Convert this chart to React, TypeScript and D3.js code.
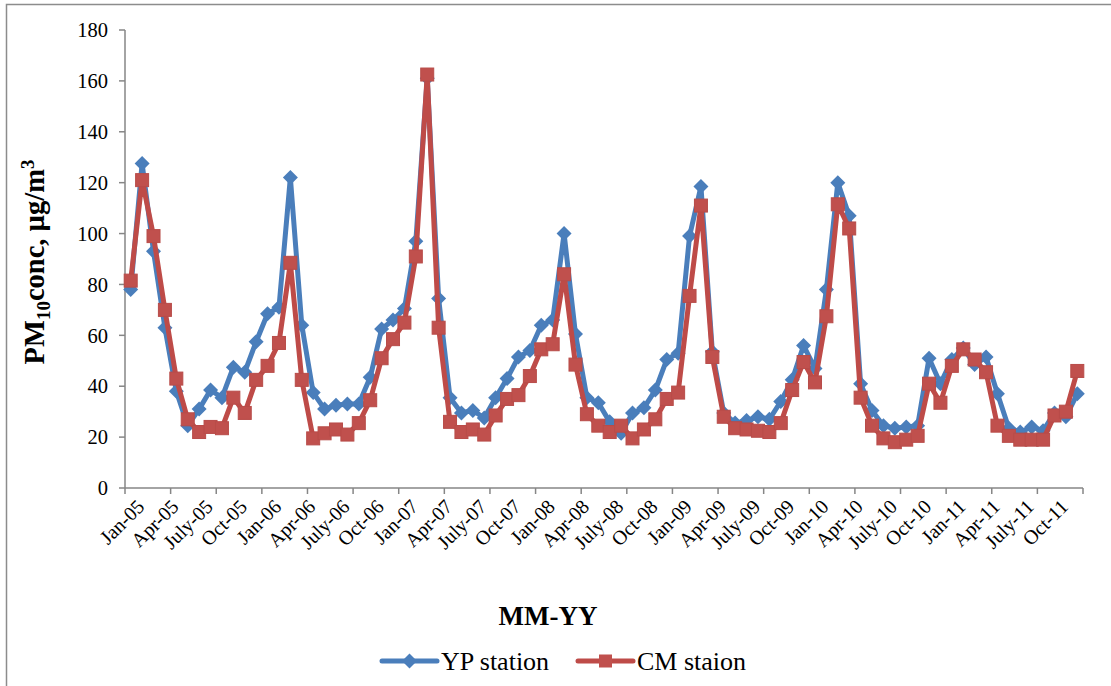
import * as d3 from "d3";
import { useEffect, useRef } from "react";

// monthly categories Jan-05 .. Dec-11
const months = ["Jan", "Feb", "Mar", "Apr", "May", "June", "July", "Aug", "Sep", "Oct", "Nov", "Dec"];
const years = ["05", "06", "07", "08", "09", "10", "11"];
const categories = years.flatMap((y) => months.map((m) => m + "-" + y));

// PM10 monthly means, µg/m3
const ypStation = [
  78, 127.5, 93, 63, 38, 24.5, 31, 38.5, 35.5, 47.5, 45.5, 57.5,
  68.5, 71, 122, 64, 37.5, 31, 32.5, 33, 33, 43.5, 62.5, 66,
  70.5, 97, 161, 74.5, 35.5, 29.5, 30.5, 27.5, 35.5, 43, 51.5, 54,
  64, 66, 100, 60.5, 35.5, 33.5, 26, 21.5, 29.5, 31.5, 38.5, 50.5,
  53, 99, 118.5, 53.5, 29.5, 25.5, 26.5, 28, 27, 34, 42.5, 56,
  47, 78, 120, 107, 41, 30.5, 24.5, 23.5, 24, 24.5, 51, 41,
  50.5, 55, 48.5, 51.5, 37, 23.5, 22, 24, 22.5, 29.5, 28, 37,
];
const cmStation = [
  81.5, 121, 99, 70, 43, 27, 22, 24, 23.5, 35.5, 29.5, 42.5,
  48, 57, 88.5, 42.5, 19.5, 21.5, 23, 21, 25.5, 34.5, 51, 58.5,
  65, 91, 162.5, 63, 26, 22, 23, 21, 28.5, 35, 36.5, 44,
  54.5, 56.5, 84, 48.5, 29, 24.5, 22, 24.5, 19.5, 23, 27, 35,
  37.5, 75.5, 111, 51.5, 28, 23.5, 23, 22.5, 22, 25.5, 38.5, 49.5,
  41.5, 67.5, 111.5, 102, 35.5, 24.5, 19.5, 18, 19, 20.5, 41, 33.5,
  48, 54.5, 50.5, 45.5, 24.5, 20.5, 19, 19, 19, 28.5, 30, 46,
];
const yTicks = [0, 20, 40, 60, 80, 100, 120, 140, 160, 180];
const xTickLabels = categories.filter((c) => /^(Jan|Apr|July|Oct)-/.test(c));

const FONT = "'Liberation Serif', 'Times New Roman', serif";
const BLUE = "#4A7EBB";
const RED = "#BE4B48";

const App = () => {
  const svgRef = useRef<SVGSVGElement>(null);

  useEffect(() => {
    const svg = d3.select(svgRef.current);
    svg.selectAll("*").remove();

    const x = d3.scaleBand().domain(categories).range([125, 1083]);
    const y = d3.scaleLinear().domain([0, 180]).range([488, 30]);
    const cx = (c: string) => (x(c) as number) + x.bandwidth() / 2;

    // outer frame
    svg
      .append("rect")
      .attr("x", 6.5)
      .attr("y", 4.5)
      .attr("width", 1200)
      .attr("height", 800)
      .attr("fill", "none")
      .attr("stroke", "#8c8c8c")
      .attr("stroke-width", 1.5);

    // y axis
    const gy = svg.append("g");
    gy.append("line")
      .attr("x1", 125).attr("x2", 125)
      .attr("y1", y(0)).attr("y2", y(180))
      .attr("stroke", "#868686").attr("stroke-width", 1.5);
    gy.selectAll("line.tick")
      .data(yTicks)
      .enter()
      .append("line")
      .attr("class", "tick")
      .attr("x1", 119).attr("x2", 125)
      .attr("y1", (d) => y(d)).attr("y2", (d) => y(d))
      .attr("stroke", "#868686").attr("stroke-width", 1.5);
    gy.selectAll("text")
      .data(yTicks)
      .enter()
      .append("text")
      .attr("x", 108)
      .attr("y", (d) => y(d))
      .attr("dy", "0.35em")
      .attr("text-anchor", "end")
      .attr("font-family", FONT)
      .attr("font-size", 20.5)
      .text((d) => d);

    // x axis
    const gx = svg.append("g");
    gx.append("line")
      .attr("x1", 125).attr("x2", 1083)
      .attr("y1", 488).attr("y2", 488)
      .attr("stroke", "#868686").attr("stroke-width", 1.5);
    const bounds = categories
      .filter((_, i) => i % 4 === 0)
      .map((c) => x(c) as number)
      .concat([x.range()[1]]);
    gx.selectAll("line.tick")
      .data(bounds)
      .enter()
      .append("line")
      .attr("class", "tick")
      .attr("x1", (d) => d).attr("x2", (d) => d)
      .attr("y1", 488).attr("y2", 494)
      .attr("stroke", "#868686").attr("stroke-width", 1.5);
    gx.selectAll("text")
      .data(xTickLabels)
      .enter()
      .append("text")
      .attr("transform", (d) => "translate(" + (cx(d) + 5) + ",498) rotate(-45)")
      .attr("text-anchor", "end")
      .attr("dy", "0.7em")
      .attr("font-family", FONT)
      .attr("font-size", 20)
      .text((d) => d);

    // axis titles
    svg
      .append("text")
      .attr("x", 548)
      .attr("y", 625)
      .attr("text-anchor", "middle")
      .attr("font-family", FONT)
      .attr("font-weight", "bold")
      .attr("font-size", 27)
      .text("MM-YY");

    const yt = svg
      .append("text")
      .attr("transform", "translate(44,262) rotate(-90)")
      .attr("text-anchor", "middle")
      .attr("font-family", FONT)
      .attr("font-weight", "bold")
      .attr("font-size", 28.5);
    yt.append("tspan").text("PM");
    yt.append("tspan").attr("font-size", 19).attr("dy", 6).text("10");
    yt.append("tspan").attr("dy", -6).text("conc, µg/m");
    yt.append("tspan").attr("font-size", 19).attr("dy", -10).text("3");

    // series
    const diamond = "M0,-7.5L7.5,0L0,7.5L-7.5,0Z";
    const series = [
      { name: "YP station", values: ypStation, color: BLUE, marker: "diamond" },
      { name: "CM staion", values: cmStation, color: RED, marker: "square" },
    ];
    const line = d3
      .line<number>()
      .x((_, i) => cx(categories[i]))
      .y((d) => y(d));

    series.forEach((s) => {
      const g = svg.append("g");
      g.append("path")
        .attr("d", line(s.values))
        .attr("fill", "none")
        .attr("stroke", s.color)
        .attr("stroke-width", 5)
        .attr("stroke-linejoin", "round");
      if (s.marker === "diamond") {
        g.selectAll("path.m")
          .data(s.values)
          .enter()
          .append("path")
          .attr("class", "m")
          .attr("d", diamond)
          .attr("transform", (d, i) => "translate(" + cx(categories[i]) + "," + y(d) + ")")
          .attr("fill", s.color);
      } else {
        g.selectAll("rect")
          .data(s.values)
          .enter()
          .append("rect")
          .attr("x", (_, i) => cx(categories[i]) - 6.5)
          .attr("y", (d) => y(d) - 6.5)
          .attr("width", 13)
          .attr("height", 13)
          .attr("fill", "#C0504D")
          .attr("stroke", "#B84C49")
          .attr("stroke-width", 1);
      }
    });

    // legend
    const legendX = [382, 578];
    series.forEach((s, i) => {
      const lx = legendX[i];
      const g = svg.append("g");
      g.append("line")
        .attr("x1", lx).attr("x2", lx + 55)
        .attr("y1", 661).attr("y2", 661)
        .attr("stroke", s.color).attr("stroke-width", 5)
        .attr("stroke-linecap", "round");
      if (s.marker === "diamond") {
        g.append("path")
          .attr("d", diamond)
          .attr("transform", "translate(" + (lx + 27.5) + ",661)")
          .attr("fill", s.color);
      } else {
        g.append("rect")
          .attr("x", lx + 21).attr("y", 654.5)
          .attr("width", 13).attr("height", 13)
          .attr("fill", "#C0504D");
      }
      g.append("text")
        .attr("x", lx + 59)
        .attr("y", 670)
        .attr("font-family", FONT)
        .attr("font-size", 26)
        .text(s.name);
    });
  }, []);

  return (
    <svg
      ref={svgRef}
      width={1111}
      height={686}
      style={{ position: "absolute", left: 0, top: 0, background: "#fff" }}
    ></svg>
  );
};

export default App;
